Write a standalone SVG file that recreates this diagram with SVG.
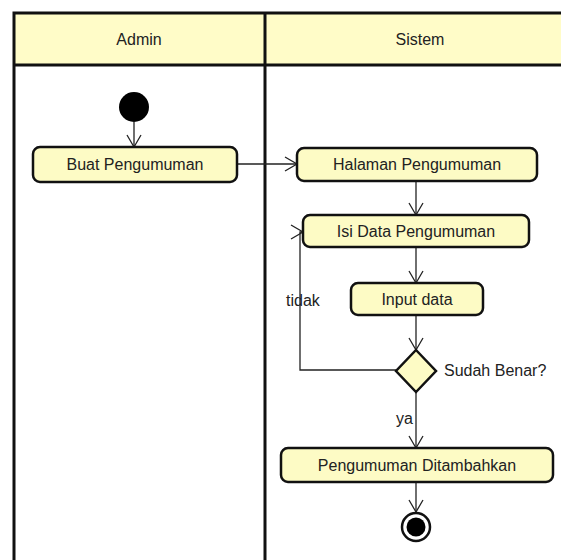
<svg xmlns="http://www.w3.org/2000/svg" width="561" height="560" viewBox="0 0 561 560">
<defs>
<style>
text{font-family:"Liberation Sans",Arial,sans-serif;font-size:16px;fill:#222;}
.lane{fill:none;stroke:#111;stroke-width:3;}
.act{fill:#fdfbc5;stroke:#111;stroke-width:2.5;}
.con{fill:none;stroke:#222;stroke-width:1.3;}
</style>
<marker id="arr" markerUnits="userSpaceOnUse" markerWidth="16" markerHeight="16" refX="13" refY="8" orient="auto">
<path d="M1,1 L13,8 L1,15" fill="none" stroke="#222" stroke-width="1.3"/>
</marker>
</defs>
<rect width="561" height="560" fill="#fff"/>
<g id="lanes">
<rect x="14" y="13" width="560" height="52" fill="#fffcc8"/>
<path class="lane" d="M14,562 V13 H563 M14,65 H563 M265,13 V562"/>
<text x="139" y="45" text-anchor="middle">Admin</text>
<text x="420" y="45" text-anchor="middle">Sistem</text>
</g>
<g id="connectors">
<path class="con" d="M134,122 V147" marker-end="url(#arr)"/>
<path class="con" d="M237,164 H297" marker-end="url(#arr)"/>
<path class="con" d="M416,181 V215" marker-end="url(#arr)"/>
<path class="con" d="M416,247 V283" marker-end="url(#arr)"/>
<path class="con" d="M416,315 V350" marker-end="url(#arr)"/>
<path class="con" d="M396,370 H300 V232 H303" marker-end="url(#arr)"/>
<path class="con" d="M416,392 V448" marker-end="url(#arr)"/>
<path class="con" d="M416,482 V512" marker-end="url(#arr)"/>
<text x="286" y="306">tidak</text>
<text x="396" y="424">ya</text>
</g>
<g id="start"><circle cx="134" cy="107" r="15" fill="#000"/></g>
<g id="buat"><rect class="act" x="33" y="147" width="204" height="35" rx="7"/><text x="135" y="170" text-anchor="middle">Buat Pengumuman</text></g>
<g id="halaman"><rect class="act" x="297" y="148" width="240" height="33" rx="7"/><text x="417" y="170" text-anchor="middle">Halaman Pengumuman</text></g>
<g id="isi"><rect class="act" x="303" y="215" width="226" height="32" rx="7"/><text x="416" y="237" text-anchor="middle">Isi Data Pengumuman</text></g>
<g id="input"><rect class="act" x="351" y="283" width="132" height="32" rx="7"/><text x="417" y="305" text-anchor="middle">Input data</text></g>
<g id="decision"><path class="act" d="M416,350 L436,371 L416,392 L396,371 Z"/><text x="444" y="376">Sudah Benar?</text></g>
<g id="ditambahkan"><rect class="act" x="281" y="448" width="272" height="34" rx="7"/><text x="417" y="471" text-anchor="middle">Pengumuman Ditambahkan</text></g>
<g id="end"><circle cx="416" cy="527" r="14" fill="#fff" stroke="#111" stroke-width="2.5"/><circle cx="416" cy="527" r="9.5" fill="#000"/></g>
</svg>
